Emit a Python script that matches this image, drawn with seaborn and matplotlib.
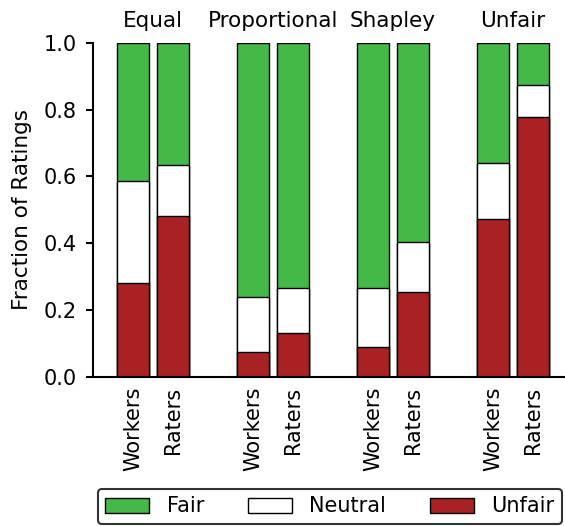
import matplotlib
matplotlib.use("Agg")
import matplotlib.pyplot as plt
import numpy as np
import pandas as pd
import seaborn as sns

# values
schemes = ["Equal", "Proportional", "Shapley", "Unfair"]
groups = ["Workers", "Raters"]
unfair = [0.280, 0.481, 0.073, 0.132, 0.090, 0.254, 0.471, 0.778]
neutral = [0.307, 0.154, 0.165, 0.133, 0.176, 0.150, 0.170, 0.096]
positions = [0, 1, 3, 4, 6, 7, 9, 10]

green = "#45b947"
red = "#a82224"

df = pd.DataFrame({
    "pos": positions,
    "who": groups * len(schemes),
    "unfair": unfair,
    "neutral": neutral,
})
df["un_neu"] = df["unfair"] + df["neutral"]
df["total"] = 1.0

sns.set_style("ticks")
plt.rcParams["font.family"] = ["DejaVu Sans"]
plt.rcParams.update({
    "text.color": "black",
    "axes.labelcolor": "black",
    "xtick.color": "black",
    "ytick.color": "black",
})

fig = plt.figure(figsize=(5.65, 5.26), dpi=100)
ax = fig.add_axes([93.3 / 565, 1 - 376.7 / 526, 1 - 93.3 / 565, (376.7 - 42.7) / 526])

layers = [("total", green, "Fair"), ("un_neu", "white", "Neutral"), ("unfair", red, "Unfair")]
for col, color, name in layers:
    sns.barplot(data=df, x="pos", y=col, native_scale=True, width=0.8,
                color=color, edgecolor="black", linewidth=1.0, saturation=1,
                errorbar=None, ax=ax, label=name)

h, l = ax.get_legend_handles_labels()
if ax.get_legend() is not None:
    ax.get_legend().remove()

ax.set_xlim(-1, 10.8)
ax.set_ylim(0, 1)
ax.set_xticks(positions)
ax.set_xticklabels(df["who"], rotation=90, fontsize=15)
ax.tick_params(axis="x", length=0, pad=7)
ax.tick_params(axis="y", direction="out", length=5, width=1.5, pad=7, labelsize=15)
ax.set_yticks(np.arange(0, 1.01, 0.2))
ax.set_xlabel("")
ax.set_ylabel("Fraction of Ratings", fontsize=15.5, labelpad=8)
sns.despine(ax=ax)
for s in ["left", "bottom"]:
    ax.spines[s].set_linewidth(1.5)
    ax.spines[s].set_color("black")

for i, name in enumerate(schemes):
    ax.text(positions[2 * i] + 0.5, 1.035, name, ha="center", va="bottom",
            fontsize=15.5, transform=ax.get_xaxis_transform())

leg = fig.legend(h, l, loc="center", bbox_to_anchor=(330 / 565, 1 - 506.5 / 526),
                 ncol=3, fontsize=15, frameon=True, fancybox=True,
                 handlelength=2.1, handletextpad=0.85, columnspacing=2.1,
                 borderpad=0.35, labelcolor="black")
leg.get_frame().set_edgecolor("black")
leg.get_frame().set_linewidth(1.5)

fig.savefig("out.png", dpi=100)
